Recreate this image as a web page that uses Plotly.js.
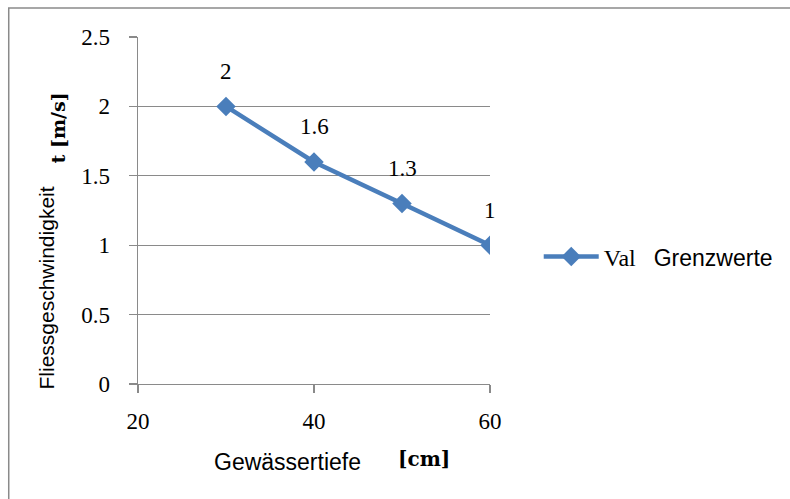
<!DOCTYPE html>
<html>
<head>
<meta charset="utf-8">
<script src="https://cdn.plot.ly/plotly-3.0.1.min.js"></script>
<style>html,body{margin:0;padding:0;background:#fff;}#chart{width:790px;height:499px;}</style>
</head>
<body>
<div id="chart"></div>
<script>
// Data
const depths = [30, 40, 50, 60];           // Gewässertiefe [cm]
const speeds = [2, 1.6, 1.3, 1];           // Fliessgeschwindigkeit [m/s]
const pointLabels = ['2', '1.6', '1.3', '1'];
const xTicks = [20, 40, 60];
const yTicks = [0, 0.5, 1, 1.5, 2, 2.5];

const SERIF = 'Liberation Serif, Times New Roman, serif';
const SERIF_B = 'DejaVu Serif';
const SANS = 'Liberation Sans, Arial, sans-serif';
const GRAY = '#8a8a8a';
const BLUE = '#4a7ebb';

const trace = {
  x: depths,
  y: speeds,
  type: 'scatter',
  mode: 'lines+markers',
  name: 'Val\u00a0\u00a0\u00a0<span style="font-family:Liberation Sans;font-size:23px">Grenzwerte</span>',
  line: {color: BLUE, width: 4.5},
  marker: {symbol: 'diamond', size: 15, color: BLUE},
  hoverinfo: 'x+y'
};

const annotations = depths.map((d, i) => ({
  x: d, y: speeds[i], xref: 'x', yref: 'y',
  text: pointLabels[i], showarrow: false,
  yshift: 35, xanchor: 'center', yanchor: 'middle',
  font: {family: SERIF, size: 23, color: '#000'}
}));

// axis titles (two-part, as in the reference)
annotations.push({
  xref: 'paper', yref: 'paper', x: (288 - 138) / 354, y: (384 - 462) / 347,
  text: 'Gewässertiefe', showarrow: false, xanchor: 'center', yanchor: 'middle',
  font: {family: SANS, size: 23, color: '#000'}
});
annotations.push({
  xref: 'paper', yref: 'paper', x: (426 - 138) / 354, y: (384 - 459) / 347,
  text: '<b>[cm]</b>', showarrow: false, xanchor: 'center', yanchor: 'middle',
  font: {family: SERIF_B, size: 20, color: '#000'}
});
annotations.push({
  xref: 'paper', yref: 'paper', x: (45 - 138) / 354, y: (384 - 288) / 347,
  text: 'Fliessgeschwindigkeit', showarrow: false, textangle: -90,
  xanchor: 'center', yanchor: 'middle',
  font: {family: SANS, size: 21, color: '#000'}
});
annotations.push({
  xref: 'paper', yref: 'paper', x: (58 - 138) / 354, y: (384 - 128) / 347,
  text: '<b>t [m/s]</b>', showarrow: false, textangle: -90,
  xanchor: 'center', yanchor: 'middle',
  font: {family: SERIF_B, size: 19, color: '#000'}
});

const layout = {
  width: 790, height: 499,
  margin: {l: 138, r: 298, t: 37, b: 115},
  paper_bgcolor: '#fff', plot_bgcolor: '#fff',
  showlegend: true,
  legend: {
    x: (541 - 138) / 354, y: (384 - 257) / 347, xanchor: 'left', yanchor: 'middle',
    font: {family: SERIF, size: 24, color: '#000'},
    itemwidth: 55,
    bgcolor: 'rgba(0,0,0,0)', borderwidth: 0
  },
  xaxis: {
    range: [20, 60], tickvals: xTicks, ticktext: xTicks.map(String),
    showgrid: false, zeroline: false, showline: true, linecolor: GRAY, linewidth: 1.3,
    ticks: 'outside', ticklen: 8, tickcolor: GRAY, tickwidth: 1.3,
    ticklabelstandoff: 8,
    tickfont: {family: SERIF, size: 23, color: '#000'}
  },
  yaxis: {
    range: [0, 2.5], tickvals: yTicks, ticktext: yTicks.map(String),
    showgrid: true, gridcolor: GRAY, gridwidth: 1.3,
    zeroline: false, showline: true, linecolor: GRAY, linewidth: 1.3,
    ticks: 'outside', ticklen: 8, tickcolor: GRAY, tickwidth: 1.3,
    ticklabelstandoff: 14,
    tickfont: {family: SERIF, size: 23, color: '#000'}
  },
  annotations: annotations,
  shapes: [{
    type: 'rect', xref: 'paper', yref: 'paper', layer: 'below',
    x0: (8 - 138) / 354, x1: (820 - 138) / 354,
    y0: (384 - 530) / 347, y1: (384 - 8) / 347,
    line: {color: GRAY, width: 1.5}, fillcolor: 'rgba(0,0,0,0)'
  }]
};

Plotly.newPlot('chart', [trace], layout, {displayModeBar: false, staticPlot: true});
</script>
</body>
</html>
